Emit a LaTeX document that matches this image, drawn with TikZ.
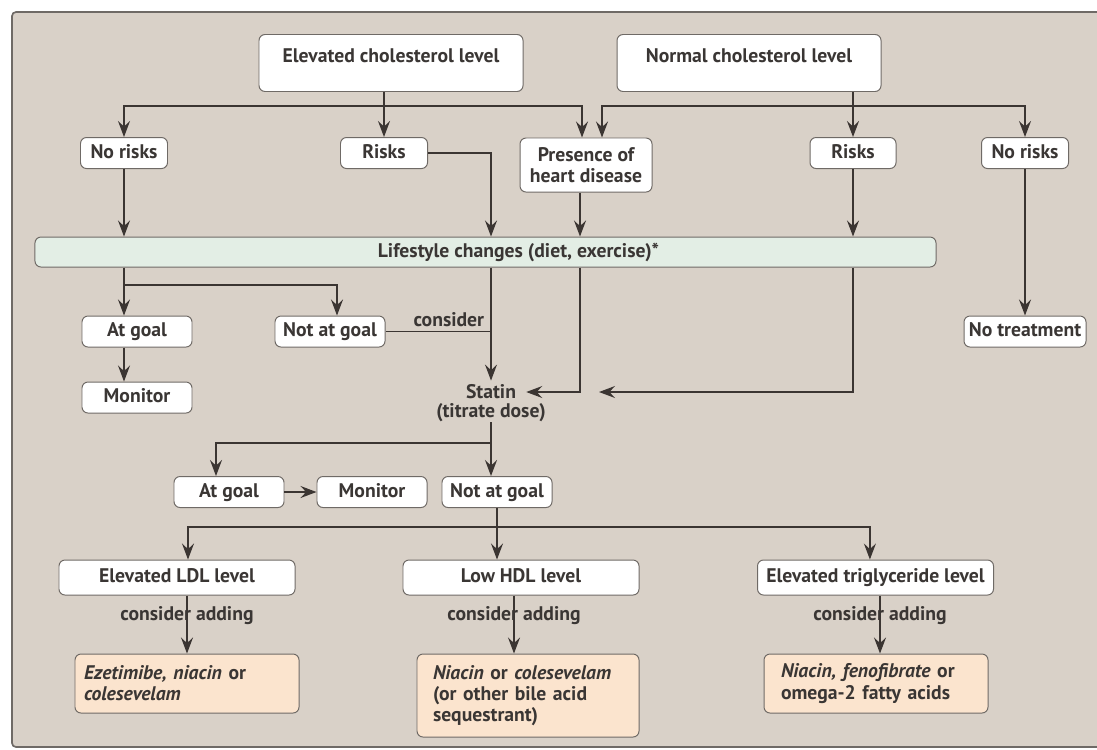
\documentclass[tikz,border=0pt]{standalone}
\usepackage{fontspec}
\setmainfont{PT Sans}
\usepackage{xcolor}
\definecolor{framec}{HTML}{D9D1C8}
\definecolor{edgec}{HTML}{6F6A66}
\definecolor{linec}{HTML}{3B3532}
\definecolor{textc}{HTML}{3A3634}
\definecolor{lifec}{HTML}{E3EEE5}
\definecolor{drugc}{HTML}{FBE4CE}
\usetikzlibrary{arrows.meta,positioning,calc}
\tikzset{
  >={Stealth[length=4mm,width=3mm,inset=1.4mm]},
  box/.style={draw=edgec,line width=0.7pt,fill=white,rounded corners=1.5mm,minimum height=8mm,inner sep=1pt,font=\bfseries\fontsize{14}{15}\selectfont,text=textc},
  sbox/.style={box,minimum height=7.75mm,text height=3.5mm,text depth=1mm},
  topbox/.style={box,anchor=north,minimum width=66mm,inner ysep=3.5mm,text height=3.5mm,text depth=3.75mm},
  lifebox/.style={box,fill=lifec,minimum width=225.25mm,minimum height=7.5mm,text height=3.5mm,text depth=1mm},
  lvl/.style={minimum width=59mm,minimum height=8.75mm},
  drug/.style={box,fill=drugc,minimum width=56mm,minimum height=14.75mm,align=left,font=\bfseries\fontsize{14}{15}\selectfont},
  lbl/.style={font=\bfseries\fontsize{14}{15}\selectfont,text=textc,inner sep=0pt},
  ptr/.style={->,line width=0.9pt,draw=linec},
  link/.style={line width=0.9pt,draw=linec},
  frame/.style={draw=edgec,fill=framec,line width=1.2pt,rounded corners=1mm},
}

\begin{document}
\begin{tikzpicture}[x=0.25mm,y=-0.25mm]
  \useasboundingbox (0,0) rectangle (1097,749);
  \fill[white] (0,0) rectangle (1097,749);
  \draw[frame] (12,12) rectangle (1115,747);

  \node[topbox] (elev) at (391,34) {Elevated cholesterol level};
  \node[topbox] (norm) at (749,34) {Normal cholesterol level};
  \node[sbox,minimum width=21.75mm] (nrL) at (124,153) {No risks};
  \node[sbox,minimum width=21.75mm] (rkL) at (384,153) {Risks};
  \node[box,minimum width=33mm,minimum height=13.5mm,align=center] (pres) at (586,165) {Presence of\\heart disease};
  \node[sbox,minimum width=21.5mm] (rkR) at (853,153) {Risks};
  \node[sbox,minimum width=21.75mm] (nrR) at (1025,153) {No risks};
  \node[lifebox] (life) at (485.5,252) {\hspace*{16.5mm}Lifestyle changes (diet, exercise)*};

  \node[sbox,minimum width=27.5mm] (agU) at (137,331.5) {At goal};
  \node[sbox,minimum width=27.5mm] (naU) at (330,331.5) {Not at goal};
  \node[sbox,minimum width=27.5mm] (monU) at (137,397.5) {Monitor};
  \node[sbox,minimum width=30.5mm] (ntr) at (1025,331.5) {No treatment};
  \node[lbl,inner xsep=2.5mm,inner ysep=1mm] (stat) at (491,392) {Statin};
  \node[lbl] (dose) at (491,413) {(titrate dose)};

  \node[sbox,minimum width=27.5mm] (agL) at (229,492) {At goal};
  \node[sbox,minimum width=27.5mm] (monL) at (372,492) {Monitor};
  \node[sbox,minimum width=27.5mm] (naL) at (497,492) {Not at goal};
  \node[sbox,lvl] (ldl) at (177,577.5) {Elevated LDL level};
  \node[sbox,lvl] (hdl) at (521,577.5) {Low HDL level};
  \node[sbox,lvl] (tri) at (875.5,577.5) {Elevated triglyceride level};
  \node[drug,text width=51.5mm] (dL) at (187,683.5) {\textit{Ezetimibe, niacin} or\\\textit{colesevelam}};
  \node[drug,text width=47.5mm,minimum width=55.5mm,minimum height=20.75mm] (dH) at (528,695.5) {\textit{Niacin} or \textit{colesevelam}\\(or other bile acid\\sequestrant)};
  \node[drug,text width=47.5mm] (dT) at (876,683.5) {\textit{Niacin, fenofibrate} or\\omega-2 fatty acids};

  \coordinate (t1) at (0,106);
  \coordinate (t2) at (0,285);
  \coordinate (t3) at (0,443);
  \coordinate (t4) at (0,527);
  \coordinate (cP) at ([xshift=-1.5mm]pres.south);
  \coordinate (pa) at ([xshift=-1mm]pres.north);
  \coordinate (pb) at ([xshift=4mm]pres.north);
  \coordinate (rjoin) at ([xshift=4.75mm]cP |- stat);
  \coordinate (cH) at ([xshift=-3.5mm]dH.north);
  \coordinate (cT) at ([xshift=1mm]dT.north);

  \draw[ptr] (elev.south -| rkL) -- (rkL.north);
  \draw[ptr] (rkL |- t1) -| (nrL.north);
  \draw[ptr] (rkL |- t1) -| (pa);
  \draw[ptr] (norm.south -| rkR) -- (rkR.north);
  \draw[ptr] (rkR |- t1) -| (pb);
  \draw[ptr] (rkR |- t1) -| (nrR.north);

  \draw[ptr] (nrL.south) -- (nrL |- life.north);
  \draw[ptr] (rkL.east) -| (stat |- life.north);
  \draw[ptr] (cP) -- (cP |- life.north);
  \draw[ptr] (rkR.south) -- (rkR |- life.north);
  \draw[ptr] (nrR.south) -- (ntr.north);

  \draw[ptr] (nrL |- life.south) -- (nrL |- agU.north);
  \draw[ptr] (nrL |- t2) -| ([xshift=1.75mm]naU.north);
  \draw[ptr] (nrL |- agU.south) -- (nrL |- monU.north);
  \draw[ptr] (stat |- life.south) -- (stat.north);
  \draw[link] (naU.east) -- (naU.east -| stat) node[pos=.6,above=1mm,lbl] (cns) {consider};
  \draw[ptr] (cP |- life.south) |- (stat.east);
  \draw[ptr] (rkR |- life.south) |- (rjoin);

  \draw[ptr] (dose.south) -- (stat |- naL.north);
  \draw[ptr] (stat |- t3) -| ([xshift=-3.25mm]agL.north);
  \draw[ptr] (agL.east) -- (monL.west);
  \draw[link] (naL.south) -- (naL |- t4);
  \draw[ptr] (naL |- t4) -| ([xshift=2.75mm]ldl.north);
  \draw[ptr] (naL |- t4) -- (naL |- hdl.north);
  \draw[ptr] (naL |- t4) -| ([xshift=-1.4mm]tri.north);

  \draw[ptr] (ldl.south -| dL) -- (dL.north) node[pos=.35,lbl] (caL) {consider adding};
  \draw[ptr] (cH |- hdl.south) -- (cH) node[pos=.35,lbl] (caH) {consider adding};
  \draw[ptr] (cT |- tri.south) -- (cT) node[pos=.35,lbl] (caT) {consider adding};
\end{tikzpicture}
\end{document}
